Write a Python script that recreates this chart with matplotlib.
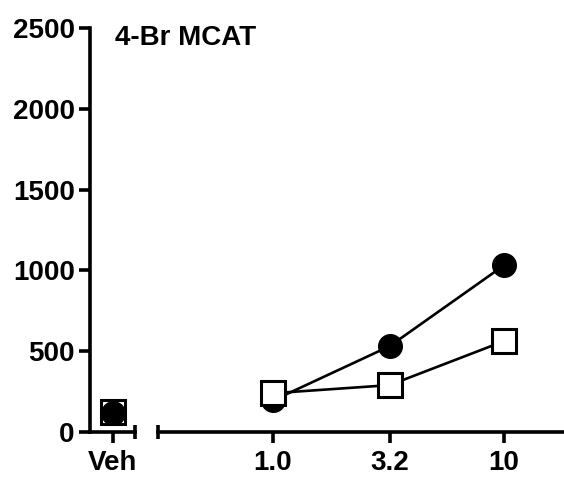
import matplotlib
matplotlib.use("Agg")
import matplotlib.pyplot as plt
import numpy as np

plt.rcParams['font.family'] = ['Liberation Sans', 'DejaVu Sans']
plt.rcParams['font.weight'] = 'bold'

title = "4-Br MCAT"
veh_label = ["Veh"]
doses = [1.0, 3.2, 10]
dose_labels = ["1.0", "3.2", "10"]
veh_circle = [120]
veh_square = [121]
circle_vals = [195, 531, 1031]
square_vals = [240, 290, 562]
yticks = [0, 500, 1000, 1500, 2000, 2500]

W, H = 564, 483
fig = plt.figure(figsize=(W/100, H/100), dpi=100)

def fx(px): return px / W
def fy(py): return 1 - py / H

y0, y1 = 432, 28
axL = fig.add_axes([fx(90), fy(y0), fx(135) - fx(90), fy(y1) - fy(y0)])
axR = fig.add_axes([fx(158), fy(y0), fx(564) - fx(158), fy(y1) - fy(y0)], sharey=axL)

lw_sp = 2.6
fs = 20
for ax in (axL, axR):
    for s in ('top', 'right'):
        ax.spines[s].set_visible(False)
    for s in ('left', 'bottom'):
        ax.spines[s].set_linewidth(lw_sp)
    ax.tick_params(axis='both', width=lw_sp, length=8, labelsize=fs)
    ax.tick_params(axis='x', pad=5)
    ax.tick_params(axis='y', pad=3)
    ax.patch.set_alpha(0)

axR.spines['left'].set_visible(False)
axR.tick_params(axis='y', left=False, labelleft=False)
axR.tick_params(axis='x', which='minor', bottom=False)

axL.set_ylim(0, 2500)
axL.set_yticks(yticks)
axL.set_yticklabels([str(v) for v in yticks])

# Left (vehicle) axis
axL.set_xlim(-0.511, 0.489)
axL.set_xticks([0])
axL.set_xticklabels(veh_label)
ms = 17
mew = 2.2
axL.plot([0], veh_square, marker='s', ms=ms, mfc='white', mec='black', mew=mew,
         ls='none', clip_on=False, zorder=3)
axL.plot([0], veh_circle, marker='o', ms=ms, mfc='black', mec='black', mew=0.8,
         ls='none', clip_on=False, zorder=4)

# Right (dose) axis, log scale
axR.set_xscale('log')
axR.set_xlim(0.318, 18.2)
axR.set_xticks(doses)
axR.set_xticklabels(dose_labels)
axR.plot(doses, circle_vals, color='black', lw=1.9, marker='o', ms=ms,
         mfc='black', mec='black', clip_on=False, zorder=3)
axR.plot(doses, square_vals, color='black', lw=1.9, marker='s', ms=ms,
         mfc='white', mec='black', mew=mew, clip_on=False, zorder=4)

# end caps of broken x axis
cap = 0.018
axL.plot([1, 1], [-cap, cap], transform=axL.transAxes, color='black',
         lw=lw_sp, clip_on=False, solid_capstyle='butt')
axR.plot([0, 0], [-cap, cap], transform=axR.transAxes, color='black',
         lw=lw_sp, clip_on=False, solid_capstyle='butt')

fig.text(fx(115), fy(45), title, fontsize=fs, fontweight='bold', ha='left', va='baseline')

fig.savefig("out.png", dpi=100)
